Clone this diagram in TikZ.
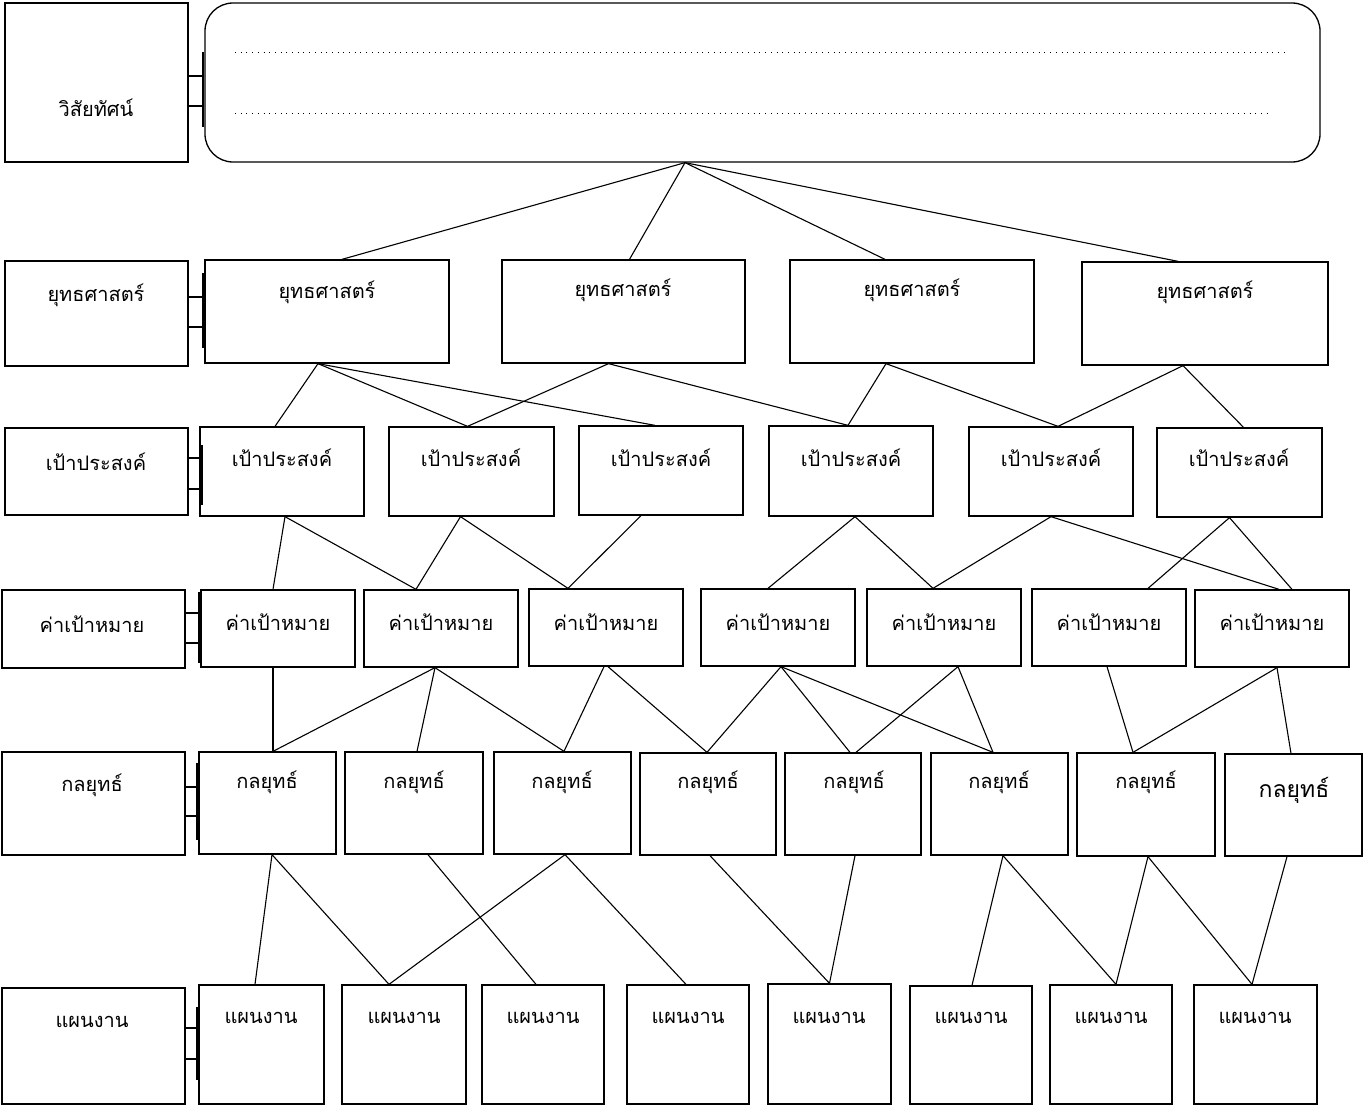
\documentclass[tikz,border=0pt]{standalone}
\usepackage{fontspec}
\newfontfamily\thaifont[Script=Thai]{Loma}
\usetikzlibrary{fit}
\tikzset{
  box/.style={draw, line width=1.3pt, inner sep=0pt},
  txt/.style={font=\thaifont\fontsize{20}{22}\selectfont, inner sep=0pt},
  bigtxt/.style={font=\thaifont\fontsize{23}{25}\selectfont, inner sep=0pt},
  link/.style={line width=1.1pt},
  tab/.style={line width=1.3pt},
  bar/.style={line width=1.5pt},
  dotline/.style={line width=1pt, dash pattern=on 1pt off 4.7pt},
}
\newcommand\bx[5]{\node[box, fit={(#2,#3)(#4,#5)}] (#1) {};}
\newcommand\cn[4]{\draw[link] ([xshift=#2pt]#1.south) -- ([xshift=#4pt]#3.north);}
\newcommand\tabc[6]{% left node, x2, y1, y2, bar y1, bar y2
  \draw[tab] (#1.east |- 0,#3) rectangle (#2,#4);
  \draw[bar] (#2,#5) -- (#2,#6);}
\begin{document}
\begin{tikzpicture}[x=1pt,y=-1pt]
\useasboundingbox (0,0) rectangle (1363,1108);
\fill[white] (0,0) rectangle (1363,1108);

% left labels
\bx{L1}{5}{3}{188}{162}
\bx{L2}{5}{261}{188}{366}
\bx{L3}{5}{428}{188}{515}
\bx{L4}{2}{590}{185}{668}
\bx{L5}{2}{752}{185}{855}
\bx{L6}{2}{988}{185}{1104}
\node[txt] (L1t) at (96,108) {วิสัยทัศน์};
\node[txt] (L2t) at (96,295) {ยุทธศาสตร์};
\node[txt] (L3t) at (96,462) {เป้าประสงค์};
\node[txt] (L4t) at (92,624) {ค่าเป้าหมาย};
\node[txt] (L5t) at (92,785) {กลยุทธ์};
\node[txt] (L6t) at (92,1022) {แผนงาน};

% vision
\node[box, rounded corners=28pt, fit={(205,3)(1320,162)}] (vis) {};
\draw[dotline] (235,53) -- (1285,53);
\draw[dotline] (235,113) -- (1272,113);

% strategies
\bx{s1}{205}{260}{449}{363}
\bx{s2}{502}{260}{745}{363}
\bx{s3}{790}{260}{1034}{363}
\bx{s4}{1082}{262}{1328}{365}
\node[txt] (s1t) at (327,292) {ยุทธศาสตร์};
\node[txt] (s2t) at (623,290) {ยุทธศาสตร์};
\node[txt] (s3t) at (912,290) {ยุทธศาสตร์};
\node[txt] (s4t) at (1205,292) {ยุทธศาสตร์};

% goals
\bx{o1}{200}{427}{364}{516}
\bx{o2}{389}{427}{554}{516}
\bx{o3}{579}{426}{743}{515}
\bx{o4}{769}{426}{933}{516}
\bx{o5}{969}{427}{1133}{516}
\bx{o6}{1157}{428}{1322}{517}
\foreach \n/\x in {o1/282,o2/471,o3/661,o4/851,o5/1051,o6/1239}
  \node[txt] (\n t) at (\x,458) {เป้าประสงค์};

% targets
\bx{t1}{201}{590}{355}{667}
\bx{t2}{364}{590}{518}{667}
\bx{t3}{529}{589}{683}{666}
\bx{t4}{701}{589}{855}{666}
\bx{t5}{867}{589}{1021}{666}
\bx{t6}{1032}{589}{1186}{666}
\bx{t7}{1195}{590}{1349}{667}
\foreach \n/\x in {t1/278,t2/441,t3/606,t4/778,t5/944,t6/1109,t7/1272}
  \node[txt] (\n t) at (\x,622) {ค่าเป้าหมาย};

% tactics
\bx{k1}{199}{752}{336}{854}
\bx{k2}{345}{752}{483}{854}
\bx{k3}{494}{752}{631}{854}
\bx{k4}{640}{753}{776}{855}
\bx{k5}{785}{753}{921}{855}
\bx{k6}{931}{753}{1068}{855}
\bx{k7}{1077}{753}{1215}{856}
\bx{k8}{1225}{754}{1362}{856}
\foreach \n/\x in {k1/267,k2/414,k3/562,k4/708,k5/854,k6/999,k7/1146}
  \node[txt] (\n t) at (\x,782) {กลยุทธ์};
\node[bigtxt] (k8t) at (1294,790) {กลยุทธ์};

% plans
\bx{p1}{199}{985}{324}{1104}
\bx{p2}{342}{985}{466}{1104}
\bx{p3}{482}{985}{604}{1104}
\bx{p4}{627}{985}{749}{1104}
\bx{p5}{768}{984}{891}{1104}
\bx{p6}{910}{986}{1032}{1104}
\bx{p7}{1050}{985}{1172}{1104}
\bx{p8}{1194}{985}{1317}{1104}
\foreach \n/\x in {p1/261,p2/404,p3/543,p4/688,p5/829,p6/971,p7/1111,p8/1255}
  \node[txt] (\n t) at (\x,1018) {แผนงาน};

% tabs between label boxes and rows
\tabc{L1}{203}{76}{106}{52}{127}
\tabc{L2}{203}{297}{327}{273}{348}
\tabc{L3}{202}{458}{489}{445}{505}
\tabc{L4}{199}{613}{643}{592}{663}
\tabc{L5}{197}{787}{816}{763}{840}
\tabc{L6}{197}{1028}{1059}{1007}{1080}

% connectors
\cn{vis}{-77.5}{s1}{15}
\cn{vis}{-77.5}{s2}{6}
\cn{vis}{-77.5}{s3}{-27}
\cn{vis}{-77.5}{s4}{-27}

\cn{s1}{-9}{o1}{-7}
\cn{s1}{-9}{o2}{-4}
\cn{s1}{-9}{o3}{-6}
\cn{s2}{-15}{o2}{-4}
\cn{s2}{-15}{o4}{-3}
\cn{s3}{-26}{o4}{-3}
\cn{s3}{-26}{o5}{7}
\cn{s4}{-22}{o5}{7}
\cn{s4}{-22}{o6}{4}

\cn{o1}{3}{t1}{-5}
\cn{o1}{3}{t2}{-25}
\cn{o2}{-11}{t2}{-25}
\cn{o2}{-11}{t3}{-38}
\cn{o3}{-20}{t3}{-38}
\cn{o4}{4}{t4}{-10}
\cn{o4}{4}{t5}{-11}
\cn{o5}{0}{t5}{-11}
\cn{o5}{0}{t7}{7}
\cn{o6}{-10}{t6}{39}
\cn{o6}{-10}{t7}{20}

\cn{t1}{-5}{k1}{5.5}
\cn{t2}{-6}{k1}{5.5}
\cn{t2}{-6}{k2}{3}
\cn{t2}{-6}{k3}{1.5}
\cn{t3}{-2}{k3}{1.5}
\cn{t3}{2}{k4}{-1}
\cn{t4}{3}{k4}{-1}
\cn{t4}{3}{k5}{-3}
\cn{t4}{3}{k6}{-6.5}
\cn{t5}{14}{k5}{3}
\cn{t5}{14}{k6}{-6.5}
\cn{t6}{-2}{k7}{-13}
\cn{t7}{5}{k7}{-13}
\cn{t7}{5}{k8}{-2.5}

\cn{k1}{4.5}{p1}{-6.5}
\cn{k1}{4.5}{p2}{-15}
\cn{k2}{14}{p3}{-7}
\cn{k3}{2.5}{p2}{-15}
\cn{k3}{2.5}{p4}{-2}
\cn{k4}{2}{p5}{0}
\cn{k5}{2}{p5}{0}
\cn{k6}{3.5}{p6}{1}
\cn{k6}{3.5}{p7}{5}
\cn{k7}{2}{p7}{5}
\cn{k7}{2}{p8}{-3.5}
\cn{k8}{-6.5}{p8}{-3.5}
\end{tikzpicture}
\end{document}
